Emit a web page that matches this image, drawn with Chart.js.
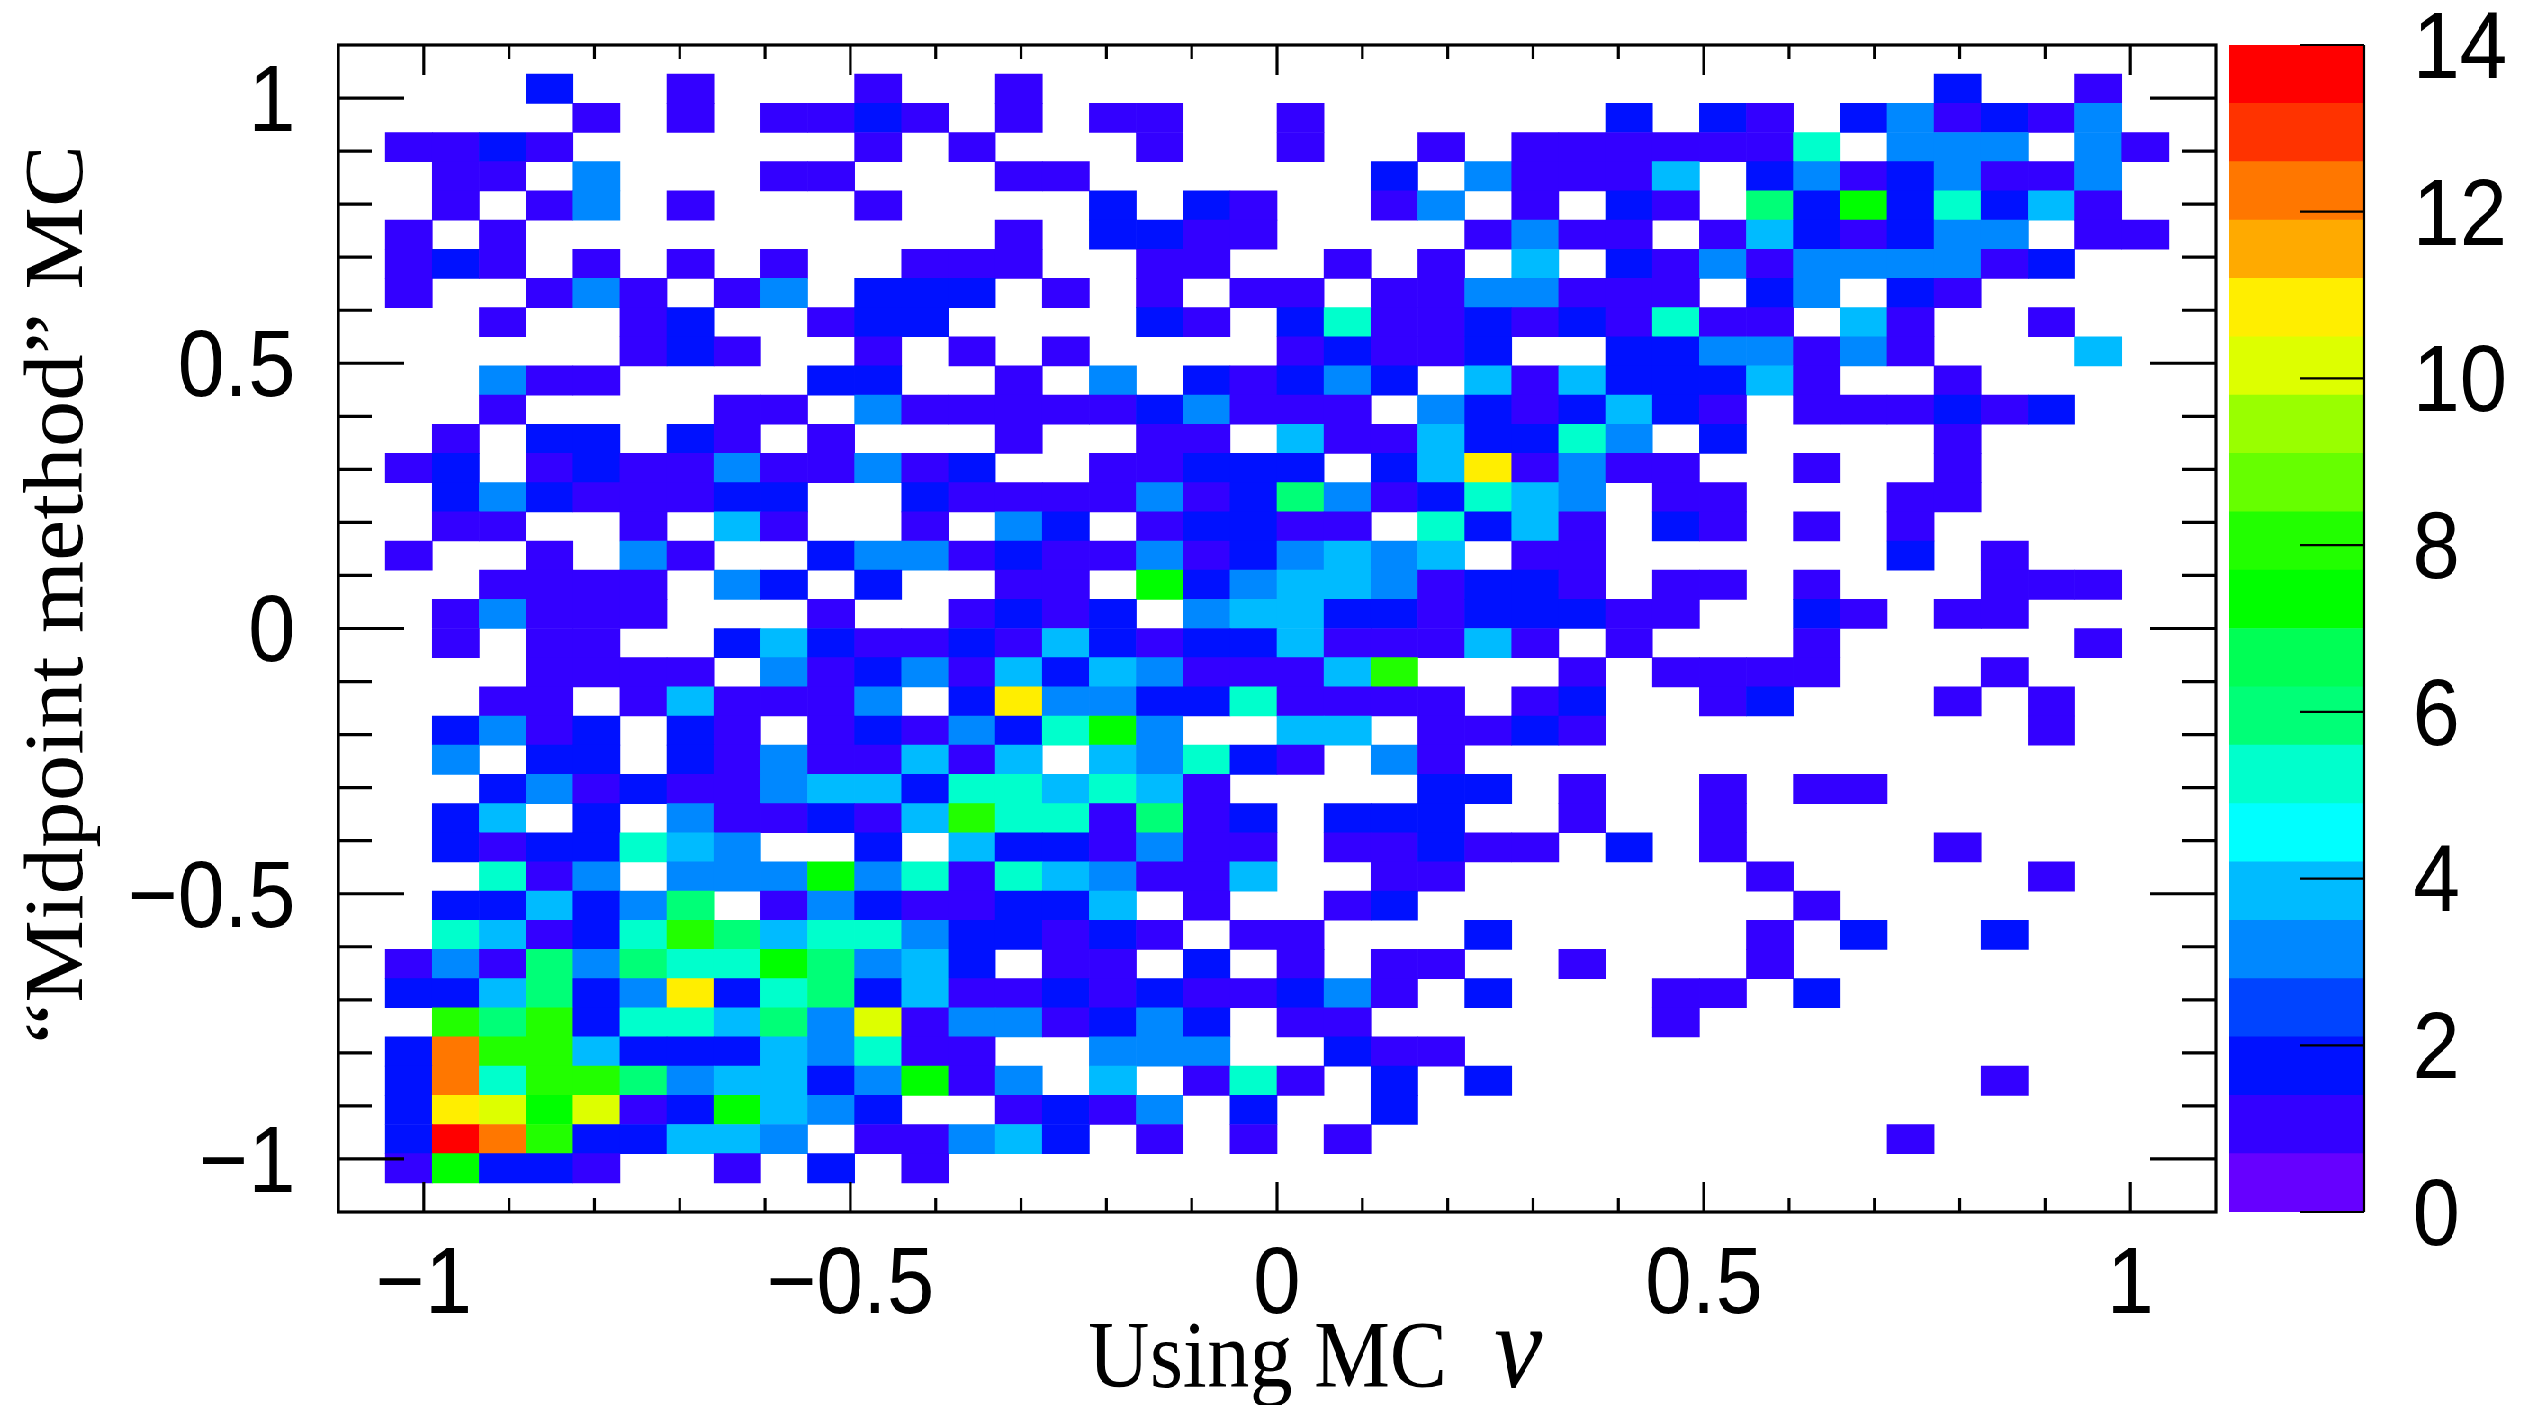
<!DOCTYPE html>
<html>
<head>
<meta charset="utf-8">
<script src="https://cdn.jsdelivr.net/npm/chart.js@4"></script>
<style>
    html, body { margin: 0; padding: 0; background: #fff; overflow: hidden; }
    /* the source figure is squeezed horizontally, text included */
    #stage { position: absolute; left: 0; top: 0; width: 2822px; height: 1405px; transform-origin: 0 0; transform: scaleX(0.9); }
    #stage canvas { position: absolute; top: 0; }
    #histo { left: 0; }
    #palette { left: 2474px; }
</style>
</head>
<body>
<div id="stage">
    <canvas id="histo" width="2474" height="1405"></canvas>
    <canvas id="palette" width="348" height="1405"></canvas>
</div>
<script>
const axisMin = -1.1;
const axisMax = 1.1;
const binWidth = 0.055;
const majorTicks = [-1, -0.5, 0, 0.5, 1];
const minorTicks = [-0.9, -0.8, -0.7, -0.6, -0.4, -0.3, -0.2, -0.1, 0.1, 0.2, 0.3, 0.4, 0.6, 0.7, 0.8, 0.9];
const paletteTicks = [0, 2, 4, 6, 8, 10, 12, 14];
const paletteMax = 14;

// bottom to top, as on the colour bar
const paletteColors = [
    '#6600ff', '#3300ff', '#0011ff', '#0044ff', '#0088ff', '#00bbff', '#00ffff', '#00ffcc', '#00ff77', '#00ff55',
    '#00ff00', '#22ff00', '#66ff00', '#99ff00', '#ddff00', '#ffee00', '#ffaa00', '#ff7700', '#ff3300', '#ff0000'
];

// One entry per row of bins from the top, column index: count. Empty bins left out.
const counts = [
    {},
    {4:2,7:1,11:1,14:1,34:2,37:1},
    {5:1,7:1,9:1,10:1,11:2,12:1,14:1,16:1,17:1,20:1,27:2,29:2,30:1,32:2,33:3,34:1,35:2,36:1,37:3},
    {1:1,2:1,3:2,4:1,11:1,13:1,17:1,20:1,23:1,25:1,26:1,27:1,28:1,29:1,30:1,31:5,33:3,34:3,35:3,37:3,38:1},
    {2:1,3:1,5:3,9:1,10:1,14:1,15:1,22:2,24:3,25:1,26:1,27:1,28:4,30:2,31:3,32:1,33:2,34:3,35:1,36:1,37:3},
    {2:1,4:1,5:3,7:1,11:1,16:2,18:2,19:1,22:1,23:3,25:1,27:2,28:1,30:6,31:2,32:7,33:2,34:5,35:2,36:4,37:1},
    {1:1,3:1,14:1,16:2,17:2,18:1,19:1,24:1,25:3,26:1,27:1,29:1,30:4,31:2,32:1,33:2,34:3,35:3,37:1,38:1},
    {1:1,2:2,3:1,5:1,7:1,9:1,12:1,13:1,14:1,17:1,18:1,21:1,23:1,25:4,27:2,28:1,29:3,30:1,31:3,32:3,33:3,34:3,35:1,36:2},
    {1:1,4:1,5:3,6:1,8:1,9:3,11:2,12:2,13:2,15:1,17:1,19:1,20:1,22:1,23:1,24:3,25:3,26:1,27:1,28:1,30:2,31:3,33:2,34:1},
    {3:1,6:1,7:2,10:1,11:2,12:2,17:2,18:1,20:2,21:5,22:1,23:1,24:2,25:1,26:2,27:1,28:5,29:1,30:1,32:4,33:1,36:1},
    {6:1,7:2,8:1,11:1,13:1,15:1,20:1,21:2,22:1,23:1,24:2,27:2,28:2,29:3,30:3,31:1,32:3,33:1,37:4},
    {3:3,4:1,5:1,10:2,11:2,14:1,16:3,18:2,19:1,20:2,21:3,22:2,24:4,25:1,26:4,27:2,28:2,29:2,30:4,31:1,34:1},
    {3:1,8:1,9:1,11:3,12:1,13:1,14:1,15:1,16:1,17:2,18:3,19:1,20:1,21:1,23:3,24:2,25:1,26:2,27:4,28:2,29:1,31:1,32:1,33:1,34:2,35:1,36:2},
    {2:1,4:2,5:2,7:2,8:1,10:1,14:1,17:1,18:1,20:4,21:1,22:1,23:4,24:2,25:2,26:5,27:3,29:2,34:1},
    {1:1,2:2,4:1,5:2,6:1,7:1,8:3,9:1,10:1,11:3,12:1,13:2,16:1,17:1,18:2,19:2,20:2,22:2,23:4,24:11,25:1,26:3,27:1,28:1,31:1,34:1},
    {2:2,3:3,4:2,5:1,6:1,7:1,8:2,9:2,12:2,13:1,14:1,15:1,16:1,17:3,18:1,19:2,20:6,21:3,22:1,23:2,24:5,25:4,26:3,28:1,29:1,33:1,34:1},
    {2:1,3:1,6:1,8:4,9:1,12:1,14:3,15:2,17:1,18:2,19:2,20:1,21:1,23:5,24:2,25:4,26:1,28:2,29:1,31:1,33:1},
    {1:1,4:1,6:3,7:1,10:2,11:3,12:3,13:1,14:2,15:1,16:1,17:3,18:1,19:2,20:3,21:4,22:3,23:4,25:1,26:1,33:2,35:1},
    {3:1,4:1,5:1,6:1,8:3,9:2,11:2,14:1,15:1,17:7,18:2,19:3,20:4,21:4,22:3,23:1,24:2,25:2,26:1,28:1,29:1,31:1,35:1,36:1,37:1},
    {2:1,3:3,4:1,5:1,6:1,10:1,13:1,14:2,15:1,16:2,18:3,19:4,20:4,21:2,22:2,23:1,24:2,25:2,26:2,27:1,28:1,31:2,32:1,34:1,35:1},
    {2:1,4:1,5:1,8:2,9:4,10:2,11:1,12:1,13:2,14:1,15:4,16:2,17:1,18:2,19:2,20:4,21:1,22:1,23:1,24:4,25:1,27:1,31:1,37:1},
    {4:1,5:1,6:1,7:1,9:3,10:1,11:2,12:3,13:1,14:4,15:2,16:4,17:3,18:1,19:1,20:1,21:4,22:8,26:1,28:1,29:1,30:1,31:1,35:1},
    {3:1,4:1,6:1,7:4,8:1,9:1,10:1,11:3,13:2,14:11,15:3,16:3,17:2,18:2,19:5,20:1,21:1,22:1,23:1,25:1,26:2,29:1,30:2,34:1,36:1},
    {2:2,3:3,4:1,5:2,7:2,8:1,10:1,11:2,12:1,13:3,14:2,15:5,16:7,17:3,20:4,21:4,23:1,24:1,25:2,26:1,36:1},
    {2:3,4:2,5:2,7:2,8:1,9:3,10:1,11:1,12:4,13:1,14:4,16:4,17:3,18:5,19:2,20:1,22:3,23:1},
    {3:2,4:3,5:1,6:2,7:1,8:1,9:3,10:4,11:4,12:2,13:5,14:5,15:4,16:5,17:4,18:1,23:2,24:2,26:1,29:1,31:1,32:1},
    {2:2,3:4,5:2,7:3,8:1,9:1,10:2,11:1,12:4,13:8,14:5,15:5,16:1,17:6,18:1,19:2,21:2,22:2,23:2,26:1,29:1},
    {2:2,3:1,4:2,5:2,6:5,7:4,8:3,11:2,13:4,14:2,15:2,16:1,17:3,18:1,19:1,21:1,22:1,23:2,24:1,25:1,27:2,29:1,34:1},
    {3:5,4:1,5:3,7:3,8:3,9:3,10:7,11:3,12:5,13:1,14:5,15:4,16:3,17:1,18:1,19:4,22:1,23:1,30:1,36:1},
    {2:2,3:2,4:4,5:2,6:3,7:6,9:1,10:3,11:2,12:1,13:1,14:2,15:2,16:4,18:1,21:1,22:2,31:1},
    {2:5,3:4,4:1,5:2,6:5,7:8,8:6,9:4,10:5,11:5,12:3,13:2,14:2,15:1,16:2,17:1,19:1,20:1,24:2,30:1,32:2,35:2},
    {1:1,2:3,3:1,4:6,5:3,6:6,7:5,8:5,9:7,10:6,11:3,12:4,13:2,15:1,16:1,18:2,20:1,22:1,23:1,26:1,30:1},
    {1:2,2:2,3:4,4:6,5:2,6:3,7:11,8:2,9:5,10:6,11:2,12:4,13:1,14:1,15:2,16:1,17:2,18:1,19:1,20:2,21:3,22:1,24:2,28:1,29:1,31:2},
    {2:8,3:6,4:8,5:2,6:5,7:5,8:4,9:6,10:3,11:10,12:1,13:3,14:3,15:1,16:2,17:3,18:2,20:1,21:1,28:1},
    {1:2,2:12,3:8,4:8,5:4,6:2,7:2,8:2,9:4,10:3,11:5,12:1,13:1,16:3,17:3,18:3,21:2,22:1,23:1},
    {1:2,2:12,3:5,4:8,5:8,6:6,7:3,8:4,9:4,10:2,11:3,12:7,13:1,14:3,16:4,18:1,19:5,20:1,22:2,24:2,35:1},
    {1:2,2:11,3:10,4:7,5:10,6:1,7:2,8:7,9:4,10:3,11:2,14:1,15:2,16:1,17:3,19:2,22:2},
    {1:2,2:14,3:12,4:8,5:2,6:2,7:4,8:4,9:3,11:1,12:1,13:3,14:4,15:2,17:1,19:1,21:1,33:1},
    {1:1,2:7,3:2,4:2,5:1,8:1,10:2,12:1},
    {}
];

const tickFont = { family: "'Liberation Sans', sans-serif", size: 94 };
const titleFont = "93px 'Liberation Serif', serif";

// Map a count to its colour bar band
function bandColor(count) {
    const band = Math.floor(count * paletteColors.length / paletteMax);
    return paletteColors[Math.min(band, paletteColors.length - 1)];
}

function tickLabel(value) {
    return value < 0 ? '\u2212' + Math.abs(value) : String(value);
}

// The axes get a fixed size so the plot frame lands where it does in the figure
function fixAxis(size) {
    return scale => {
        if (scale.isHorizontal()) scale.height = size; else scale.width = size;
        scale.paddingTop = scale.paddingBottom = scale.paddingLeft = scale.paddingRight = 0;
    };
}

function useTicks(values) {
    return scale => { scale.ticks = values.map(value => ({ value })); };
}

const cells = [];
const cellColors = [];
counts.forEach((row, r) => {
    Object.keys(row).forEach(key => {
        const c = Number(key);
        const top = axisMax - r * binWidth;
        cells.push({ x: axisMin + (c + 0.5) * binWidth, y: [top - binWidth, top] });
        cellColors.push(bandColor(row[key]));
    });
});

// ROOT style frame with ticks pointing inward on all four sides
const frameTicks = {
    id: 'frameTicks',
    afterDatasetsDraw(chart) {
        const { ctx, chartArea: a, scales: { x, y } } = chart;
        ctx.save();
        ctx.strokeStyle = '#000';
        ctx.lineWidth = 3.2;
        const line = (x1, y1, x2, y2) => {
            ctx.beginPath();
            ctx.moveTo(x1, y1);
            ctx.lineTo(x2, y2);
            ctx.stroke();
        };
        const mark = (values, xLen, yLen) => {
            values.forEach(v => {
                const px = x.getPixelForValue(v);
                const py = y.getPixelForValue(v);
                line(px, a.bottom, px, a.bottom - xLen);
                line(px, a.top, px, a.top + xLen);
                line(a.left, py, a.left + yLen, py);
                line(a.right, py, a.right - yLen, py);
            });
        };
        mark(majorTicks, 30, 73);
        mark(minorTicks, 14, 37);
        ctx.strokeRect(a.left, a.top, a.right - a.left, a.bottom - a.top);
        ctx.restore();
    }
};

// Titles sit off centre and the nu is italic, which a scale title can not do
const axisTitles = {
    id: 'axisTitles',
    afterDraw(chart) {
        const ctx = chart.ctx;
        ctx.save();
        ctx.fillStyle = '#000';
        ctx.textBaseline = 'alphabetic';
        ctx.textAlign = 'left';
        ctx.font = "95px 'Liberation Serif', serif";
        ctx.fillText('Using MC', 1209, 1387);
        ctx.font = "italic 120px 'Liberation Serif', serif";
        ctx.fillText('\u03bd', 1660, 1387);
        ctx.font = titleFont;
        ctx.translate(91, 1044);
        ctx.rotate(-Math.PI / 2);
        ctx.fillText('\u201cMidpoint method\u201d MC', 0, 0);
        ctx.restore();
    }
};

new Chart(document.getElementById('histo'), {
    type: 'bar',
    data: {
        datasets: [{
            data: cells,
            backgroundColor: cellColors,
            borderWidth: 0,
            grouped: false,
            barPercentage: 1,
            categoryPercentage: 1
        }]
    },
    options: {
        responsive: false,
        animation: false,
        events: [],
        layout: { padding: { left: 0, right: 12, top: 45, bottom: 0 } },
        plugins: { legend: { display: false }, tooltip: { enabled: false } },
        scales: {
            x: {
                type: 'linear',
                min: axisMin,
                max: axisMax,
                offset: false,
                grid: { display: false, offset: false, drawTicks: false },
                border: { display: false },
                afterBuildTicks: useTicks(majorTicks),
                afterFit: fixAxis(193),
                ticks: {
                    color: '#000',
                    font: tickFont,
                    padding: 19,
                    autoSkip: false,
                    maxRotation: 0,
                    minRotation: 0,
                    callback: tickLabel
                }
            },
            y: {
                type: 'linear',
                min: axisMin,
                max: axisMax,
                grid: { display: false, drawTicks: false },
                border: { display: false },
                afterBuildTicks: useTicks(majorTicks),
                afterFit: fixAxis(376),
                ticks: {
                    color: '#000',
                    font: tickFont,
                    padding: 48,
                    labelOffset: 7,
                    autoSkip: false,
                    callback: tickLabel
                }
            }
        }
    },
    plugins: [frameTicks, axisTitles]
});

// Right edge and long ticks of the colour bar
const paletteAxis = {
    id: 'paletteAxis',
    afterDatasetsDraw(chart) {
        const { ctx, chartArea: a, scales: { y } } = chart;
        ctx.save();
        ctx.strokeStyle = '#000';
        ctx.lineWidth = 2.2;
        ctx.beginPath();
        ctx.moveTo(a.right, a.top);
        ctx.lineTo(a.right, a.bottom);
        paletteTicks.forEach(v => {
            const py = y.getPixelForValue(v);
            ctx.moveTo(a.right, py);
            ctx.lineTo(a.right - 71, py);
        });
        ctx.stroke();
        ctx.restore();
    }
};

const bandHeight = paletteMax / paletteColors.length;

new Chart(document.getElementById('palette'), {
    type: 'bar',
    data: {
        labels: [''],
        datasets: paletteColors.map((color, i) => ({
            data: [[i * bandHeight, (i + 1) * bandHeight]],
            backgroundColor: color,
            borderWidth: 0,
            grouped: false,
            barPercentage: 1,
            categoryPercentage: 1
        }))
    },
    options: {
        responsive: false,
        animation: false,
        events: [],
        layout: { padding: { left: 3, right: 0, top: 45, bottom: 193 } },
        plugins: { legend: { display: false }, tooltip: { enabled: false } },
        scales: {
            x: { display: false },
            y: {
                position: 'right',
                min: 0,
                max: paletteMax,
                grid: { display: false, drawTicks: false },
                border: { display: false },
                afterBuildTicks: useTicks(paletteTicks),
                afterFit: fixAxis(195),
                ticks: {
                    color: '#000',
                    font: tickFont,
                    padding: 54,
                    labelOffset: 7,
                    autoSkip: false
                }
            }
        }
    },
    plugins: [paletteAxis]
});
</script>
</body>
</html>
